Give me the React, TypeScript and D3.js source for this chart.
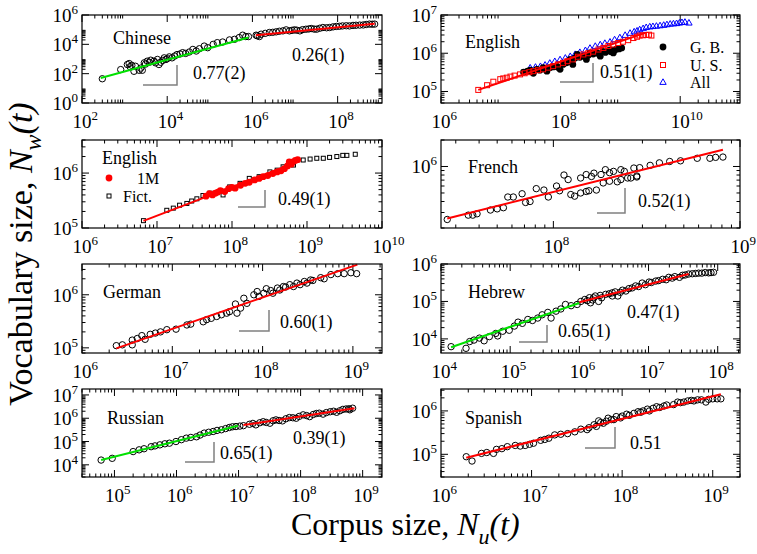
import React, { useEffect, useRef } from 'react';
import * as d3 from 'd3';

type Pt = [number, number];

// ---- Chinese ----
const chineseEarly: Pt[] = [
  [3.0e2, 45], [8.1e2, 1.9e2], [1.16e3, 4.2e2], [1.28e3, 4.9e2], [1.35e3, 3e2], [1.48e3, 3.7e2],
  [1.66e3, 1.45e2], [1.8e3, 3.2e2], [2.2e3, 1.7e2], [2.4e3, 2.4e2], [2.6e3, 1.7e2], [2.9e3, 5.5e2],
  [3.1e3, 4.5e2], [3.4e3, 7.1e2], [3.8e3, 6e2], [4.1e3, 8.3e2], [4.9e3, 7.1e2], [5.3e3, 5.5e2],
  [5.9e3, 9.3e2], [6.4e3, 4.2e2], [7e3, 6e2], [7.8e3, 8e2], [8.5e3, 1.2e3], [9.3e3, 9.3e2],
  [1.0e4, 1.05e3], [1.12e4, 1.4e3], [1.3e4, 1.2e3], [1.5e4, 1.6e3], [1.7e4, 2e3], [2e4, 2.2e3],
  [2.3e4, 2.7e3], [2.7e4, 2.4e3], [3.3e4, 3e3], [4e4, 4.5e3], [4.8e4, 3.5e3], [5.7e4, 5e3],
  [7.4e4, 7.6e3], [8.9e4, 5.9e3], [1.2e5, 1e4], [1.5e5, 1.3e4], [2e5, 1.44e4], [2.9e5, 2e4],
  [3.8e5, 2.2e4], [4.9e5, 2.9e4], [5.9e5, 4.2e4], [7e5, 3.4e4], [8.1e5, 3.4e4]
];
const chineseLate: Pt[] = [
  [1.22e6, 4.2e4], [1.3e6, 3.8e4], [1.46e6, 3.4e4], [1.6e6, 4.9e4], [2e6, 5.6e4], [2.5e6, 6.4e4],
  [3e6, 6.6e4], [3.6e6, 7.1e4], [4.3e6, 7.8e4], [5.2e6, 8.3e4], [6.2e6, 9.7e4], [7.4e6, 8.3e4],
  [8.5e6, 9e4], [9.7e6, 9.7e4], [1.1e7, 9.2e4], [1.3e7, 8.3e4], [1.5e7, 1e5], [1.8e7, 1.07e5],
  [2.1e7, 1.12e5], [2.4e7, 1.2e5], [2.8e7, 1.1e5], [3.2e7, 1.07e5], [3.8e7, 1.25e5], [4.5e7, 1.4e5],
  [5.5e7, 1.35e5], [6.5e7, 1.4e5], [7.8e7, 1.55e5], [9.3e7, 1.66e5], [1.1e8, 1.7e5], [1.3e8, 1.8e5],
  [1.6e8, 1.85e5], [1.9e8, 1.8e5], [2.3e8, 1.95e5], [2.7e8, 2e5], [3.3e8, 2.05e5], [4e8, 2.1e5],
  [4.7e8, 2.25e5], [5.6e8, 2.4e5], [6.5e8, 2.35e5], [7.4e8, 2.4e5]
];
const chineseFitEarly: Pt[] = [[2.75e2, 50], [8.1e5, 2.9e4]];
const chineseFitLate: Pt[] = [[1.2e6, 4.2e4], [7.4e8, 2.5e5]];

// ---- English (G.B., U.S., All) ----
const englishGB: Pt[] = [
  [2.4e7, 3.2e5], [2.8e7, 3.4e5], [3.1e7, 3.6e5], [3.3e7, 3.3e5], [3.5e7, 3e5], [4e7, 3.8e5],
  [4.5e7, 3.6e5], [5.1e7, 4.2e5], [5.5e7, 3.9e5], [5.9e7, 3.4e5], [6.6e7, 4.2e5], [7.5e7, 4.4e5],
  [8.5e7, 4.6e5], [9e7, 4.3e5], [9.8e7, 3.8e5], [1.1e8, 5.1e5], [1.25e8, 5.6e5], [1.35e8, 6e5],
  [1.45e8, 6.9e5], [1.6e8, 5.1e5], [1.75e8, 7.5e5], [1.9e8, 9.3e5], [2.1e8, 7.8e5], [2.4e8, 8.4e5],
  [2.7e8, 6.9e5], [2.9e8, 8.8e5], [3.1e8, 1.02e6], [3.5e8, 9.5e5], [4e8, 1.02e6], [4.3e8, 9.8e5],
  [4.6e8, 8.4e5], [5.1e8, 1.12e6], [5.6e8, 1.05e6], [6.2e8, 1.15e6], [6.7e8, 1.23e6], [7e8, 1.1e6],
  [7.6e8, 1.02e6], [8e8, 1.2e6], [8.7e8, 1.29e6], [9.5e8, 1.3e6], [1.05e9, 1.38e6]
];
const englishUS: Pt[] = [
  [4.2e6, 1.1e5], [5.9e6, 1.46e5], [7.5e6, 1.8e5], [9.8e6, 2.1e5], [1.1e7, 2.2e5], [1.26e7, 2.3e5],
  [1.45e7, 2.45e5], [1.7e7, 2.6e5], [2.1e7, 2.8e5], [2.5e7, 3e5], [3e7, 3.2e5], [3.5e7, 3.4e5],
  [4.2e7, 3.6e5], [5.1e7, 3.8e5], [6.2e7, 4.2e5], [7.5e7, 4.6e5], [9e7, 5.1e5], [1.1e8, 5.6e5],
  [1.3e8, 6.2e5], [1.6e8, 6.9e5], [1.95e8, 8.1e5], [2.4e8, 9.3e5], [2.9e8, 1.0e6], [3.5e8, 1.1e6],
  [4.3e8, 1.25e6], [5.2e8, 1.38e6], [6.3e8, 1.55e6], [7.6e8, 1.7e6], [9.2e8, 1.85e6], [1.1e9, 2e6],
  [1.35e9, 2.2e6], [1.65e9, 2.5e6], [1.9e9, 2.7e6], [2.1e9, 2.9e6], [2.4e9, 2.95e6], [2.7e9, 3e6],
  [3e9, 3.05e6], [3.3e9, 2.9e6]
];
const englishAll: Pt[] = [
  [3.1e7, 4.2e5], [3.8e7, 4.4e5], [4.6e7, 4.6e5], [5.5e7, 5e5], [6.6e7, 5.6e5], [8e7, 6.2e5],
  [9.8e7, 6.9e5], [1.2e8, 7.6e5], [1.45e8, 8.4e5], [1.75e8, 9.5e5], [2.1e8, 1.07e6], [2.6e8, 1.2e6],
  [3.1e8, 1.38e6], [3.8e8, 1.55e6], [4.6e8, 1.7e6], [5.5e8, 1.85e6], [6.7e8, 2e6], [8e8, 2.3e6],
  [9.8e8, 2.6e6], [1.2e9, 3e6], [1.45e9, 3.4e6], [1.7e9, 3.7e6], [1.9e9, 3.9e6], [2.1e9, 4.2e6],
  [2.4e9, 4.5e6], [2.7e9, 4.8e6], [3.1e9, 5e6], [3.5e9, 5.1e6], [4e9, 5.2e6], [4.6e9, 5.35e6],
  [5.3e9, 5.5e6], [6e9, 5.7e6], [6.8e9, 5.9e6], [7.7e9, 6e6], [8.7e9, 6.1e6], [9.7e9, 6.3e6],
  [1.07e10, 6.5e6], [1.2e10, 6.6e6], [1.4e10, 6.3e6]
];
const englishFit: Pt[] = [[4.2e6, 1.1e5], [2.6e9, 3.4e6]];

// ---- English (1M, Fiction) ----
const english1M: Pt[] = [
  [4.5e7, 3.8e5], [5e7, 4.2e5], [5.5e7, 4e5], [6e7, 4.3e5], [6.5e7, 4.5e5], [7e7, 4.8e5],
  [8e7, 4.6e5], [9e7, 5.2e5], [1e8, 5.5e5], [1.1e8, 5.3e5], [1.3e8, 6e5], [1.5e8, 6.5e5],
  [1.7e8, 6.8e5], [2e8, 7.5e5], [2.3e8, 8e5], [2.6e8, 8.6e5], [3e8, 9e5], [3.5e8, 9.8e5],
  [4e8, 1.05e6], [4.5e8, 1.1e6], [5e8, 1.2e6], [5.5e8, 1.35e6], [5.8e8, 1.6e6], [6e8, 1.5e6],
  [6.2e8, 1.45e6], [6.5e8, 1.6e6], [7e8, 1.7e6], [7.5e8, 1.75e6]
];
const englishFiction: Pt[] = [
  [6.6e6, 1.36e5], [1.35e7, 2.1e5], [1.65e7, 2.3e5], [2e7, 2.6e5], [2.5e7, 2.8e5], [2.9e7, 3.1e5],
  [3.4e7, 3.4e5], [4.1e7, 3.9e5], [5.1e7, 4.3e5], [7.6e7, 4e5], [9.3e7, 5.6e5], [1.28e8, 6.5e5],
  [1.7e8, 8e5], [2.3e8, 8.6e5], [3.2e8, 1.05e6], [4e8, 1.13e6], [4.8e8, 1.3e6], [6.6e8, 1.4e6],
  [8.9e8, 1.73e6], [1.1e9, 1.8e6], [1.35e9, 1.86e6], [1.65e9, 1.86e6], [2e9, 1.93e6],
  [2.5e9, 2e6], [3e9, 2.1e6], [3.4e9, 2.1e6], [4.4e9, 2.2e6]
];
const english1MFit: Pt[] = [[6.6e6, 1.35e5], [7e8, 1.55e6]];

// ---- French ----
const french: Pt[] = [
  [2.7e7, 2.5e5], [3.5e7, 2.8e5], [3.7e7, 2.8e5], [3.9e7, 2.9e5], [4.6e7, 3.2e5], [5e7, 3.3e5],
  [5.4e7, 3.4e5], [5.7e7, 4.5e5], [6.1e7, 4.5e5], [6.8e7, 4.9e5], [7.1e7, 3.9e5], [7.5e7, 4e5],
  [8.1e7, 5.6e5], [8.9e7, 5.4e5], [9.4e7, 4.5e5], [1.04e8, 6e5], [1.08e8, 5.3e5], [1.14e8, 8e5],
  [1.2e8, 7.1e5], [1.24e8, 4.8e5], [1.3e8, 4.6e5], [1.4e8, 7.4e5], [1.4e8, 5e5], [1.5e8, 5.2e5],
  [1.5e8, 8.1e5], [1.55e8, 5.3e5], [1.6e8, 7.7e5], [1.65e8, 8.4e5], [1.7e8, 5.4e5], [1.8e8, 8.1e5],
  [1.85e8, 6.5e5], [1.9e8, 9.2e5], [2e8, 8.5e5], [2e8, 6.8e5], [2.1e8, 8.8e5], [2.2e8, 6.7e5],
  [2.3e8, 9.2e5], [2.3e8, 7.1e5], [2.4e8, 8.8e5], [2.5e8, 7.4e5], [2.6e8, 7.4e5], [2.7e8, 9.6e5],
  [2.8e8, 7.6e5], [2.8e8, 7.8e5], [2.9e8, 9.7e5], [3.3e8, 1.03e6], [3.7e8, 1.1e6], [4.2e8, 1.14e6],
  [4.8e8, 1.16e6], [5.9e8, 1.24e6], [6.9e8, 1.24e6], [7.4e8, 1.27e6], [8.1e8, 1.28e6]
];
const frenchFit: Pt[] = [[2.7e7, 2.57e5], [8.1e8, 1.55e6]];

// ---- German ----
const german: Pt[] = [
  [2.4e6, 1.1e5], [2.8e6, 1.14e5], [3.6e6, 1.4e5], [3.6e6, 1.14e5], [4.1e6, 1.5e5], [4.6e6, 1.7e5],
  [5e6, 1.45e5], [5.7e6, 1.8e5], [6.5e6, 1.9e5], [7.4e6, 2.0e5], [8.7e6, 2.2e5], [1.1e7, 2.25e5],
  [1.45e7, 2.7e5], [1.6e7, 2.8e5], [2.2e7, 3.1e5], [2.4e7, 3.4e5], [2.7e7, 3.6e5], [3.1e7, 3.9e5],
  [3.5e7, 4.2e5], [4e7, 4.5e5], [4.3e7, 4.8e5], [5e7, 6.7e5], [5.2e7, 4.5e5], [5.7e7, 5.6e5],
  [6.2e7, 8.6e5], [6.7e7, 6.9e5], [8e7, 1e6], [8.7e7, 1.15e6], [9.1e7, 9.3e5], [1.03e8, 1.07e6],
  [1.1e8, 1.3e6], [1.23e8, 1.2e6], [1.3e8, 1.07e6], [1.46e8, 1.34e6], [1.55e8, 1.23e6],
  [1.7e8, 1.43e6], [1.8e8, 1.4e6], [2e8, 1.55e6], [2.2e8, 1.43e6], [2.4e8, 1.66e6], [2.6e8, 1.55e6],
  [2.9e8, 1.78e6], [3.1e8, 1.66e6], [3.4e8, 1.9e6], [3.6e8, 1.86e6], [4.4e8, 2.1e6], [4.8e8, 2e6],
  [5.7e8, 2.4e6], [6.8e8, 2.5e6], [8e8, 2.5e6], [9.5e8, 2.6e6], [1.1e9, 2.5e6]
];
const germanFit: Pt[] = [[2.4e6, 9.8e4], [1.12e9, 3.7e6]];

// ---- Hebrew ----
const hebrewEarly: Pt[] = [
  [1.4e4, 6.2e3], [2.3e4, 5.6e3], [2.6e4, 8.5e3], [3e4, 9.3e3], [3.6e4, 1.05e4], [4.2e4, 8.9e3],
  [5e4, 1.15e4], [6.2e4, 1.4e4], [6.6e4, 1.2e4], [7.8e4, 1.6e4], [9.7e4, 1.7e4], [1.15e5, 2.2e4],
  [1.3e5, 2.8e4], [1.5e5, 2.6e4], [1.8e5, 3.3e4], [2.1e5, 3.1e4], [2.5e5, 3.6e4], [2.9e5, 4.4e4],
  [3.5e5, 5.1e4], [3.9e5, 3.6e4], [4.6e5, 5.5e4], [5.4e5, 6.3e4], [6.3e5, 8.3e4], [7.6e5, 7.7e4],
  [9.3e5, 8.3e4]
];
const hebrewLate: Pt[] = [
  [1.05e6, 1.0e5], [1.2e6, 1.13e5], [1.3e6, 1.05e5], [1.4e6, 1.26e5], [1.45e6, 9.2e4], [1.55e6, 1.1e5],
  [1.6e6, 1.25e5], [1.7e6, 1.4e5], [1.9e6, 1.0e5], [2e6, 1.45e5], [2.1e6, 1.25e5], [2.4e6, 1.55e5],
  [2.7e6, 1.6e5], [3e6, 1.7e5], [3e6, 1.4e5], [3.3e6, 1.8e5], [3.6e6, 1.4e5], [3.9e6, 1.75e5],
  [4.2e6, 2e5], [4.7e6, 1.9e5], [5.2e6, 2.2e5], [5.8e6, 2.3e5], [6.5e6, 2.6e5], [7.2e6, 2.5e5],
  [8.1e6, 3.1e5], [9e6, 2.8e5], [1.02e7, 3.3e5], [1.1e7, 3.2e5], [1.27e7, 3.5e5], [1.4e7, 3.6e5],
  [1.6e7, 3.9e5], [1.8e7, 3.8e5], [1.96e7, 4.4e5], [2.2e7, 4.2e5], [2.4e7, 4.6e5], [2.8e7, 4.4e5],
  [3.1e7, 5e5], [3.4e7, 5.1e5], [3.8e7, 5.4e5], [4.3e7, 5.5e5], [4.8e7, 5.6e5], [5.3e7, 5.7e5],
  [5.9e7, 5.7e5], [6.6e7, 5.9e5], [7.4e7, 5.8e5], [8e7, 5.9e5], [8.7e7, 6e5]
];
const hebrewFitEarly: Pt[] = [[1.4e4, 6e3], [1e6, 9.1e4]];
const hebrewFitLate: Pt[] = [[1e6, 9.5e4], [3.8e7, 5.4e5]];

// ---- Russian ----
const russianEarly: Pt[] = [
  [6.1e4, 1.6e4], [9.2e4, 1.9e4], [2e5, 3.7e4], [2.5e5, 4.4e4], [3e5, 4.9e4], [3.9e5, 6e4],
  [4.5e5, 6.5e4], [5.4e5, 7.2e4], [6.5e5, 8e4], [7.7e5, 8.5e4], [9.8e5, 1e5], [1.2e6, 1.2e5],
  [1.44e6, 1.4e5], [1.7e6, 1.5e5], [2.1e6, 1.6e5], [2.4e6, 1.9e5], [2.8e6, 2.3e5], [3.3e6, 2.5e5],
  [3.9e6, 2.7e5], [4.5e6, 3e5], [5.3e6, 3.2e5], [6.2e6, 3.6e5], [7.1e6, 4e5], [8e6, 4.3e5],
  [9.1e6, 4.4e5], [1.05e7, 4.6e5], [1.2e7, 4.8e5]
];
const russianLate: Pt[] = [
  [1.5e7, 5.5e5], [1.7e7, 6e5], [1.9e7, 5.2e5], [2.2e7, 6.4e5], [2.5e7, 7.1e5], [2.8e7, 6.6e5],
  [3.2e7, 6.1e5], [3.6e7, 7.8e5], [4e7, 8.5e5], [4.5e7, 8e5], [5.1e7, 7.7e5], [5.8e7, 9.5e5],
  [6.6e7, 1.07e6], [7.5e7, 1.05e6], [8.5e7, 1e6], [9.5e7, 1.2e6], [1.1e8, 1.4e6], [1.25e8, 1.3e6],
  [1.4e8, 1.17e6], [1.6e8, 1.45e6], [1.8e8, 1.6e6], [2e8, 1.65e6], [2.3e8, 1.5e6], [2.6e8, 1.75e6],
  [3e8, 1.9e6], [3.4e8, 2e6], [3.8e8, 1.8e6], [4.3e8, 2.1e6], [4.8e8, 2.4e6], [5.4e8, 2.5e6],
  [6e8, 2.55e6], [6.2e8, 2.3e6], [6.9e8, 2.7e6]
];
const russianFitEarly: Pt[] = [[6.1e4, 1.6e4], [9.8e6, 4.8e5]];
const russianFitLate: Pt[] = [[1.2e7, 5.1e5], [7.4e8, 2.7e6]];

// ---- Spanish ----
const spanish: Pt[] = [
  [1.9e6, 8.8e4], [2.2e6, 7e4], [2.8e6, 1.05e5], [3.2e6, 1.1e5], [3.8e6, 1.05e5], [4.1e6, 1.3e5],
  [4.7e6, 1.35e5], [5.4e6, 1.5e5], [6.6e6, 1.6e5], [7.5e6, 1.55e5], [8.5e6, 1.6e5], [9.5e6, 1.7e5],
  [1.05e7, 1.8e5], [1.26e7, 2.1e5], [1.4e7, 2.2e5], [1.55e7, 2.35e5], [1.8e7, 2.8e5], [2.1e7, 2.9e5],
  [2.5e7, 3e5], [3e7, 3.3e5], [3.5e7, 3.8e5], [4.1e7, 3.7e5], [4.3e7, 4.1e5], [4.9e7, 4.8e5],
  [5.2e7, 4.4e5], [5.5e7, 5.9e5], [5.8e7, 5.4e5], [6.2e7, 5.2e5], [6.7e7, 5.8e5], [7e7, 6.8e5],
  [7.6e7, 6.3e5], [8.1e7, 6.3e5], [8.6e7, 7.4e5], [9.6e7, 6.9e5], [1e8, 7.6e5], [1.12e8, 8.4e5],
  [1.2e8, 7.9e5], [1.35e8, 8.8e5], [1.5e8, 9.6e5], [1.6e8, 9.3e5], [1.7e8, 1e6], [1.9e8, 1.1e6],
  [2e8, 1e6], [2.2e8, 1.15e6], [2.4e8, 1.25e6], [2.6e8, 1.2e6], [2.9e8, 1.3e6], [3.1e8, 1.37e6],
  [3.7e8, 1.4e6], [4.1e8, 1.6e6], [4.4e8, 1.55e6], [4.8e8, 1.6e6], [5.3e8, 1.7e6], [5.8e8, 1.75e6],
  [6.2e8, 1.7e6], [6.8e8, 1.8e6], [7.5e8, 1.8e6], [8.4e8, 1.6e6], [9e8, 1.85e6], [1e9, 1.9e6],
  [1.12e9, 1.9e6], [1.23e9, 1.9e6]
];
const spanishFit: Pt[] = [[1.9e6, 8.3e4], [1.23e9, 2.43e6]];

const GREEN = '#00e000';
const RED = '#ff0000';
const BLUE = '#0000ff';
const SERIF = '"Liberation Serif", "Times New Roman", serif';

type Kind = 'circle' | 'dot' | 'square' | 'smallsquare' | 'triangle';
interface Series { data: Pt[]; kind: Kind; color: string }
interface Fit { data: Pt[]; color: string }
interface Panel {
  left: number; top: number; width: number; height: number;
  x: [number, number]; y: [number, number]; xStep: number; yStep: number;
  series: Series[]; fits: Fit[];
  name: string; nameAt: Pt;
  slopes: { text: string; at: Pt }[];
  corner: [number, number, number, number];
  legend?: { text: string; kind: Kind; color: string; sym: Pt; at: Pt }[];
}

const panels: Panel[] = [
  {
    left: 82, top: 15, width: 300, height: 88, x: [1e2, 1.1e9], y: [1, 1e6], xStep: 2, yStep: 2,
    series: [{ data: chineseEarly, kind: 'circle', color: '#000' }, { data: chineseLate, kind: 'circle', color: '#000' }],
    fits: [{ data: chineseFitEarly, color: GREEN }, { data: chineseFitLate, color: RED }],
    name: 'Chinese', nameAt: [31, 29],
    slopes: [{ text: '0.77(2)', at: [111, 64] }, { text: '0.26(1)', at: [210, 46] }],
    corner: [61, 95, 50, 70]
  },
  {
    left: 441, top: 15, width: 299, height: 88, x: [1e6, 1e11], y: [5e4, 1e7], xStep: 2, yStep: 1,
    series: [
      { data: englishAll, kind: 'triangle', color: BLUE },
      { data: englishGB, kind: 'dot', color: '#000' },
      { data: englishUS, kind: 'square', color: RED }
    ],
    fits: [{ data: englishFit, color: RED }],
    name: 'English', nameAt: [24, 33],
    slopes: [{ text: '0.51(1)', at: [159, 63] }],
    corner: [119, 152, 48, 67],
    legend: [
      { text: 'G. B.', kind: 'dot', color: '#000', sym: [222, 32], at: [249, 38] },
      { text: 'U. S.', kind: 'square', color: RED, sym: [222, 50], at: [249, 56] },
      { text: 'All', kind: 'triangle', color: BLUE, sym: [222, 67], at: [249, 73] }
    ]
  },
  {
    left: 82, top: 140, width: 300, height: 88, x: [1e6, 1e10], y: [1e5, 4e6], xStep: 1, yStep: 1,
    series: [
      { data: englishFiction, kind: 'smallsquare', color: '#000' },
      { data: english1M, kind: 'dot', color: RED }
    ],
    fits: [{ data: english1MFit, color: RED }],
    name: 'English', nameAt: [20, 24],
    slopes: [{ text: '0.49(1)', at: [196, 65] }],
    corner: [156, 183, 50, 67],
    legend: [
      { text: '1M', kind: 'dot', color: RED, sym: [27, 38], at: [55, 44] },
      { text: 'Fict.', kind: 'smallsquare', color: '#000', sym: [27, 56], at: [41, 62] }
    ]
  },
  {
    left: 441, top: 140, width: 299, height: 88, x: [2.5e7, 1e9], y: [2e5, 2e6], xStep: 1, yStep: 1,
    series: [{ data: french, kind: 'circle', color: '#000' }],
    fits: [{ data: frenchFit, color: RED }],
    name: 'French', nameAt: [27, 33],
    slopes: [{ text: '0.52(1)', at: [197, 67] }],
    corner: [156, 184, 48, 73]
  },
  {
    left: 82, top: 264, width: 300, height: 89, x: [1e6, 2.1e9], y: [8e4, 3.8e6], xStep: 1, yStep: 1,
    series: [{ data: german, kind: 'circle', color: '#000' }],
    fits: [{ data: germanFit, color: RED }],
    name: 'German', nameAt: [21, 34],
    slopes: [{ text: '0.60(1)', at: [198, 64] }],
    corner: [157, 187, 46, 67]
  },
  {
    left: 441, top: 264, width: 299, height: 89, x: [1e4, 2.1e8], y: [4.2e3, 1e6], xStep: 1, yStep: 1,
    series: [{ data: hebrewEarly, kind: 'circle', color: '#000' }, { data: hebrewLate, kind: 'circle', color: '#000' }],
    fits: [{ data: hebrewFitEarly, color: GREEN }, { data: hebrewFitLate, color: RED }],
    name: 'Hebrew', nameAt: [27, 34],
    slopes: [{ text: '0.47(1)', at: [186, 54] }, { text: '0.65(1)', at: [117, 73] }],
    corner: [78, 106, 61, 78]
  },
  {
    left: 82, top: 389, width: 300, height: 88, x: [3e4, 2.05e9], y: [3e3, 1.8e7], xStep: 1, yStep: 1,
    series: [{ data: russianEarly, kind: 'circle', color: '#000' }, { data: russianLate, kind: 'circle', color: '#000' }],
    fits: [{ data: russianFitEarly, color: GREEN }, { data: russianFitLate, color: RED }],
    name: 'Russian', nameAt: [25, 35],
    slopes: [{ text: '0.39(1)', at: [211, 55] }, { text: '0.65(1)', at: [138, 70] }],
    corner: [103, 132, 53, 73]
  },
  {
    left: 441, top: 389, width: 299, height: 88, x: [1e6, 2e9], y: [3e4, 3.2e6], xStep: 1, yStep: 1,
    series: [{ data: spanish, kind: 'circle', color: '#000' }],
    fits: [{ data: spanishFit, color: RED }],
    name: 'Spanish', nameAt: [24, 35],
    slopes: [{ text: '0.51', at: [189, 60] }],
    corner: [144, 174, 38, 59]
  }
];

function logTicks(domain: [number, number], step: number) {
  const [a, b] = domain;
  const inside = (v: number) => v >= a * (1 - 1e-9) && v <= b * (1 + 1e-9);
  const majors: number[] = [];
  const minors: number[] = [];
  const lo = Math.floor(Math.log10(a) / step) * step;
  const hi = Math.ceil(Math.log10(b));
  for (let e = lo; e <= hi; e += step) {
    const m = Math.pow(10, e);
    if (inside(m)) majors.push(e);
    for (let k = 2; k <= 9; k++) if (inside(k * m)) minors.push(k * m);
  }
  return { majors, minors };
}

function drawSymbol(g: d3.Selection<SVGGElement, unknown, null, undefined>, kind: Kind, color: string, x: number, y: number) {
  if (kind === 'circle') {
    g.append('circle').attr('cx', x).attr('cy', y).attr('r', 3.2).attr('fill', 'none').attr('stroke', color).attr('stroke-width', 1);
  } else if (kind === 'dot') {
    g.append('circle').attr('cx', x).attr('cy', y).attr('r', 3.4).attr('fill', color);
  } else if (kind === 'square') {
    g.append('rect').attr('x', x - 2.5).attr('y', y - 2.5).attr('width', 5).attr('height', 5)
      .attr('fill', 'none').attr('stroke', color).attr('stroke-width', 1);
  } else if (kind === 'smallsquare') {
    g.append('rect').attr('x', x - 2).attr('y', y - 2).attr('width', 4).attr('height', 4)
      .attr('fill', 'none').attr('stroke', color).attr('stroke-width', 1);
  } else {
    g.append('path').attr('d', `M${x},${y - 3.2}L${x + 3.2},${y + 2.4}L${x - 3.2},${y + 2.4}Z`)
      .attr('fill', 'none').attr('stroke', color).attr('stroke-width', 1);
  }
}

function drawPanel(svg: d3.Selection<SVGSVGElement, unknown, null, undefined>, p: Panel) {
  const right = p.left + p.width, bottom = p.top + p.height;
  const sx = d3.scaleLog().domain(p.x).range([p.left, right]);
  const sy = d3.scaleLog().domain(p.y).range([bottom, p.top]);
  const g = svg.append('g');

  // ticks, drawn inward on all four sides
  const xt = logTicks(p.x, p.xStep), yt = logTicks(p.y, p.yStep);
  const tick = (x1: number, y1: number, x2: number, y2: number) =>
    g.append('line').attr('x1', x1).attr('y1', y1).attr('x2', x2).attr('y2', y2).attr('stroke', '#000').attr('stroke-width', 1);
  const MAJ = 7, MIN = 3.5;
  xt.minors.forEach(v => { const x = sx(v); tick(x, bottom, x, bottom - MIN); tick(x, p.top, x, p.top + MIN); });
  xt.majors.forEach(e => { const x = sx(Math.pow(10, e)); tick(x, bottom, x, bottom - MAJ); tick(x, p.top, x, p.top + MAJ); });
  yt.minors.forEach(v => { const y = sy(v); tick(p.left, y, p.left + MIN, y); tick(right, y, right - MIN, y); });
  yt.majors.forEach(e => { const y = sy(Math.pow(10, e)); tick(p.left, y, p.left + MAJ, y); tick(right, y, right - MAJ, y); });

  // tick labels
  xt.majors.forEach(e => {
    const t = g.append('text').attr('x', sx(Math.pow(10, e)) - 9.5).attr('y', bottom + 25)
      .attr('font-family', SERIF).attr('font-size', 19).attr('fill', '#000');
    t.append('tspan').text('10');
    t.append('tspan').attr('dy', -8).attr('font-size', 13).text(String(e));
  });
  yt.majors.forEach(e => {
    const t = g.append('text').attr('x', p.left - 4).attr('y', sy(Math.pow(10, e)) + 7)
      .attr('text-anchor', 'end').attr('font-family', SERIF).attr('font-size', 19).attr('fill', '#000');
    t.append('tspan').text('10');
    t.append('tspan').attr('dy', -8).attr('font-size', 13).text(String(e));
  });

  // data
  p.series.forEach(s => s.data.forEach(([vx, vy]) => drawSymbol(g, s.kind, s.color, sx(vx), sy(vy))));
  const line = d3.line<Pt>().x(d => sx(d[0])).y(d => sy(d[1]));
  p.fits.forEach(f => g.append('path').attr('d', line(f.data)).attr('fill', 'none').attr('stroke', f.color).attr('stroke-width', 2));

  // slope corner
  const [cx0, cx1, cyt, cyb] = p.corner;
  g.append('path').attr('d', `M${p.left + cx0},${p.top + cyb}H${p.left + cx1}V${p.top + cyt}`)
    .attr('fill', 'none').attr('stroke', '#808080').attr('stroke-width', 1.5);

  // texts
  g.append('text').attr('x', p.left + p.nameAt[0]).attr('y', p.top + p.nameAt[1])
    .attr('font-family', SERIF).attr('font-size', 18).text(p.name);
  p.slopes.forEach(s => g.append('text').attr('x', p.left + s.at[0]).attr('y', p.top + s.at[1])
    .attr('font-family', SERIF).attr('font-size', 18).text(s.text));
  (p.legend || []).forEach(l => {
    drawSymbol(g, l.kind, l.color, p.left + l.sym[0], p.top + l.sym[1]);
    g.append('text').attr('x', p.left + l.at[0]).attr('y', p.top + l.at[1])
      .attr('font-family', SERIF).attr('font-size', 16).text(l.text);
  });

  // frame
  g.append('rect').attr('x', p.left).attr('y', p.top).attr('width', p.width).attr('height', p.height)
    .attr('fill', 'none').attr('stroke', '#000').attr('stroke-width', 1.2);
}

export default function App() {
  const ref = useRef<SVGSVGElement | null>(null);

  useEffect(() => {
    if (!ref.current) return;
    const svg = d3.select(ref.current);
    svg.selectAll('*').remove();
    svg.append('rect').attr('width', 757).attr('height', 554).attr('fill', '#fff');
    panels.forEach(p => drawPanel(svg, p));

    // axis titles
    const yt = svg.append('text').attr('transform', 'translate(32,254) rotate(-90)')
      .attr('text-anchor', 'middle').attr('font-family', SERIF).attr('font-size', 34);
    yt.append('tspan').text('Vocabulary size, ');
    yt.append('tspan').attr('font-style', 'italic').text('N');
    yt.append('tspan').attr('font-style', 'italic').attr('font-size', 24).attr('dy', 9).text('w');
    yt.append('tspan').attr('font-style', 'italic').attr('dy', -9).text('(t)');

    const xt = svg.append('text').attr('x', 291).attr('y', 535)
      .attr('font-family', SERIF).attr('font-size', 32);
    xt.append('tspan').text('Corpus size, ');
    xt.append('tspan').attr('font-style', 'italic').text('N');
    xt.append('tspan').attr('font-style', 'italic').attr('font-size', 22).attr('dy', 9).text('u');
    xt.append('tspan').attr('font-style', 'italic').attr('dy', -9).text('(t)');
  }, []);

  return (
    <svg ref={ref} width={757} height={554}
      style={{ position: 'absolute', left: 0, top: 0, display: 'block' }} />
  );
}
